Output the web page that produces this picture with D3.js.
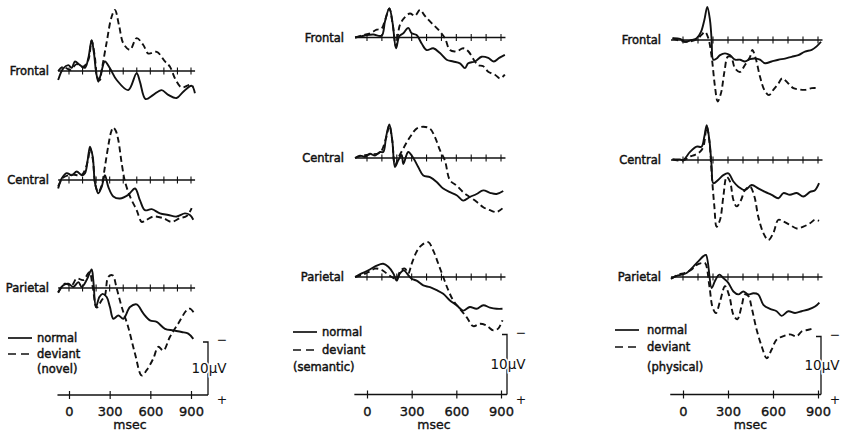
<!DOCTYPE html>
<html>
<head>
<meta charset="utf-8">
<script src="https://cdn.jsdelivr.net/npm/d3@7"></script>
<style>
  body { margin: 0; background: #fff; }
  svg text { font-family: "DejaVu Sans", sans-serif; fill: #111; }
</style>
</head>
<body>
<script>
// ERP traces, [msec, µV]; positive values plotted downward (negative up)
const sites = ['Frontal', 'Central', 'Parietal'];
const conditions = ['novel', 'semantic', 'physical'];
const timeTickLabels = [0, 300, 600, 900];
const baselineTicks = [0, 100, 200, 300, 400, 500, 600, 700, 800, 900];

const novelFrontalNormal = [[-80,1.7],[-42,-0.5],[-5,-1.1],[20,-0.6],[44,-1.8],[81,-1.1],[118,-0.6],[143,-2.5],[167,-5.8],[184,-3.4],[199,0],[216,2.0],[233,0.8],[265,-1.8],[302,-0.5],[352,1.7],[437,3.6],[499,0.4],[523,2.0],[565,5.3],[622,4.5],[683,3.6],[732,4.5],[794,5.1],[843,3.9],[905,2.8],[929,4.2]];
const novelFrontalDeviant = [[-80,0],[-42,-0.8],[7,-0.2],[56,-1.3],[105,-0.8],[143,-2.1],[167,-5.7],[191,-2.6],[208,1.1],[228,1.7],[240,0],[277,-5.3],[314,-10.2],[339,-11.5],[370,-8.5],[401,-5.2],[450,-4.0],[499,-6.2],[548,-4.9],[585,-3.3],[647,-3.6],[708,-1.8],[745,-0.8],[782,1.4],[831,3.1],[892,2.6],[917,3.0]];
const novelCentralNormal = [[-80,1.6],[-54,-0.3],[-17,-1.3],[20,-0.9],[57,-1.6],[94,-0.9],[118,-1.3],[138,-3.8],[155,-6.3],[175,-4.4],[192,0.6],[216,2.5],[241,1.3],[265,-0.9],[290,1.3],[327,3.1],[376,3.5],[437,2.8],[487,1.6],[523,3.8],[560,5.7],[610,5.5],[671,6.3],[732,6.6],[794,6.9],[855,6.3],[892,6.6],[917,7.5]];
const novelCentralDeviant = [[-80,1.2],[-40,-0.5],[20,-1.0],[94,-1.0],[138,-3.5],[155,-6.0],[175,-4.0],[195,1.0],[216,2.3],[241,1.0],[265,-2.5],[290,-6.5],[310,-9.0],[327,-9.9],[345,-9.3],[364,-7.5],[389,-3.1],[413,0.3],[450,3.1],[499,5.7],[536,7.9],[560,7.7],[622,6.9],[695,7.2],[757,7.9],[818,7.2],[868,6.8],[905,5.3]];
const novelParietalNormal = [[-80,0.9],[-42,-0.5],[-5,-0.8],[32,-0.2],[69,-1.1],[94,-0.2],[130,-1.5],[167,-3.5],[179,-1.5],[199,3.6],[224,1.7],[248,1.1],[278,1.7],[302,3.6],[327,5.8],[364,5.2],[401,5.8],[450,3.6],[499,3.1],[548,4.8],[597,6.1],[647,6.4],[708,7.7],[769,8.0],[831,8.3],[880,8.6],[917,9.6]];
const novelParietalDeviant = [[-80,0.8],[-30,-0.8],[20,-0.5],[57,-1.8],[106,-1.5],[150,-3.0],[175,-0.2],[204,3.7],[241,2.3],[265,1.4],[290,-2.1],[322,-2.4],[352,0.1],[389,3.6],[437,7.4],[487,12.4],[536,16.5],[573,15.5],[622,13.3],[659,11.1],[696,11.8],[745,9.2],[806,6.7],[868,4.2],[892,3.9],[922,4.7]];

const semanticFrontalNormal = [[-80,0],[-36,-0.2],[-2,-0.4],[43,-0.5],[98,-0.3],[121,-2.7],[150,-4.9],[172,-2.4],[195,1.8],[217,-0.2],[244,-0.7],[277,-1.6],[300,-0.7],[333,-0.4],[367,1.0],[401,2.1],[445,1.8],[490,2.6],[535,3.7],[579,4.0],[624,4.3],[658,5.1],[680,4.3],[725,4.0],[770,3.2],[814,3.4],[852,4.0],[888,3.4],[926,2.9]];
const semanticFrontalDeviant = [[-80,0],[-25,-0.4],[20,-0.7],[65,-1.3],[98,-1.5],[121,-2.9],[150,-4.8],[172,-2.3],[195,1.5],[221,-2.1],[255,-3.4],[289,-4.0],[322,-3.6],[356,-4.6],[389,-3.6],[434,-2.4],[479,-1.3],[523,0.1],[557,2.1],[602,2.3],[646,1.8],[680,2.3],[725,4.0],[747,4.6],[781,4.8],[814,5.7],[859,6.2],[893,6.8],[926,6.2]];
const semanticCentralNormal = [[-80,0],[-47,-0.4],[-13,-0.2],[20,-0.7],[54,-0.4],[87,-1.0],[109,-1.0],[128,-3.5],[150,-5.6],[170,-2.9],[188,1.5],[210,0.4],[233,-0.5],[244,1.0],[277,-1.0],[311,0],[344,1.5],[378,2.9],[423,3.2],[468,4.0],[512,5.1],[557,5.7],[602,6.2],[646,7.1],[691,6.5],[736,6.0],[781,5.4],[826,5.8],[870,6.0],[915,5.5]];
const semanticCentralDeviant = [[-80,0],[-47,-0.3],[20,-0.6],[87,-0.9],[128,-3.3],[150,-5.4],[170,-2.8],[188,1.2],[210,0],[244,-1.6],[289,-3.5],[333,-4.9],[378,-5.2],[423,-4.9],[456,-3.5],[490,-1.3],[523,0.4],[557,3.7],[602,4.6],[646,5.7],[691,6.5],[736,7.3],[781,8.2],[826,8.7],[870,9.0],[910,8.4]];
const semanticParietalNormal = [[-80,0],[-36,-0.6],[9,-1.1],[65,-1.9],[109,-2.2],[143,-1.7],[177,-0.6],[199,0.6],[221,-0.6],[248,-1.1],[277,-0.3],[300,0.3],[333,0.6],[378,1.4],[423,1.7],[468,2.2],[512,2.8],[557,3.9],[602,4.7],[646,5.6],[691,5.0],[736,5.3],[781,4.7],[826,5.1],[870,5.3],[910,5.3]];
const semanticParietalDeviant = [[-80,0],[-36,-0.3],[9,-0.8],[54,-1.4],[98,-1.2],[132,-0.6],[166,0],[199,0.3],[226,-1.1],[255,-1.4],[277,-0.6],[300,-2.2],[333,-4.2],[367,-5.3],[412,-5.8],[445,-4.4],[479,-2.2],[512,0],[546,2.2],[579,3.9],[624,5.3],[669,6.7],[714,8.2],[758,7.8],[803,8.1],[848,8.9],[881,8.6],[910,7.2]];

const physicalFrontalNormal = [[-70,-0.3],[-20,-0.2],[13,0.3],[58,0],[91,-0.3],[120,-1.4],[142,-3.4],[162,-5.7],[180,-3.4],[191,0],[202,3.4],[224,3.2],[247,2.6],[280,2.3],[313,2.6],[347,3.4],[380,3.4],[413,3.7],[447,3.3],[480,3.2],[513,3.4],[547,4.0],[591,3.7],[636,3.4],[680,3.2],[724,2.9],[769,2.6],[813,2.0],[858,1.7],[891,1.1],[920,0.3]];
const physicalFrontalDeviant = [[-70,-0.3],[13,0.3],[91,-0.1],[124,-0.9],[147,-1.4],[169,-0.3],[191,2.9],[213,8.0],[231,10.6],[253,9.2],[276,5.5],[298,2.9],[320,2.9],[347,4.9],[380,5.5],[413,4.3],[447,2.9],[462,1.7],[485,3.2],[513,6.3],[542,8.6],[573,9.5],[602,8.6],[636,7.5],[662,6.6],[702,7.5],[736,8.3],[769,8.5],[813,8.6],[858,8.3],[902,8.3]];
const physicalCentralNormal = [[-70,-0.1],[-20,-0.1],[2,0],[47,-1.4],[91,-2.3],[124,-2.3],[142,-4.0],[158,-6.0],[176,-3.4],[191,1.1],[202,4.0],[236,3.4],[269,2.6],[302,2.3],[336,3.7],[369,4.6],[413,5.2],[458,4.3],[502,4.9],[547,5.5],[591,6.0],[636,6.6],[669,5.7],[713,6.0],[758,5.7],[802,6.3],[847,5.5],[880,5.2],[907,4.0]];
const physicalCentralDeviant = [[-70,-0.1],[2,0.1],[47,-0.6],[80,-0.9],[113,-1.4],[136,-2.3],[158,-5.7],[176,-3.2],[191,2.3],[209,8.0],[224,11.5],[247,10.3],[269,6.3],[291,2.9],[313,3.7],[336,6.9],[358,8.0],[387,6.9],[413,5.2],[447,4.6],[476,6.3],[502,9.8],[536,12.6],[569,13.8],[602,12.6],[636,10.3],[669,10.6],[713,11.2],[758,11.8],[802,11.5],[847,10.9],[880,10.3],[907,10.5]];
const physicalParietalNormal = [[-80,0.3],[-42,-0.2],[-9,-0.4],[24,-0.7],[69,-1.8],[102,-2.7],[136,-3.6],[153,-3.8],[191,1.9],[213,0.7],[242,-0.4],[269,0.2],[302,1.0],[336,2.5],[369,3.0],[402,2.5],[436,3.0],[469,2.8],[502,3.0],[536,4.8],[580,5.5],[624,5.9],[658,6.7],[702,5.9],[747,6.2],[791,5.9],[836,5.6],[880,5.1],[909,4.4]];
const physicalParietalDeviant = [[-80,0.3],[-31,-0.4],[13,-0.7],[58,-1.3],[91,-2.1],[124,-2.4],[147,-2.4],[176,1.6],[198,5.3],[220,6.2],[247,4.2],[280,1.6],[309,3.3],[336,6.5],[362,7.3],[391,5.0],[413,3.0],[436,3.3],[458,5.3],[491,9.1],[524,11.9],[558,14.0],[591,12.5],[624,10.8],[669,10.2],[713,9.9],[758,10.2],[791,9.4],[836,9.1],[876,8.8]];

const traces = {
    novel: {
        Frontal: [novelFrontalNormal, novelFrontalDeviant],
        Central: [novelCentralNormal, novelCentralDeviant],
        Parietal: [novelParietalNormal, novelParietalDeviant]
    },
    semantic: {
        Frontal: [semanticFrontalNormal, semanticFrontalDeviant],
        Central: [semanticCentralNormal, semanticCentralDeviant],
        Parietal: [semanticParietalNormal, semanticParietalDeviant]
    },
    physical: {
        Frontal: [physicalFrontalNormal, physicalFrontalDeviant],
        Central: [physicalCentralNormal, physicalCentralDeviant],
        Parietal: [physicalParietalNormal, physicalParietalDeviant]
    }
};

// page layout of the three columns
const layout = [
    { x0: 69, x900: 191, k: 5.3, base: [71, 180, 288], axisY: 395, barX: 208,
      labelEnd: 49, legX: 8, textX: 37, parenX: 37, legY: [338, 354, 369] },
    { x0: 367, x900: 501, k: 6.0, base: [37.5, 158, 277], axisY: 394.5, barX: 507,
      labelEnd: 344, legX: 293, textX: 322, parenX: 293, legY: [332, 350, 367] },
    { x0: 683, x900: 818, k: 5.8, base: [40, 160, 277], axisY: 394.5, barX: 821,
      labelEnd: 661, legX: 615, textX: 647, parenX: 647, legY: [330, 347, 367] }
];

const ink = '#111';

const svg = d3.select('body')
      .append('svg')
      .attr('width', 842)
      .attr('height', 437);

layout.forEach((p, ci) => {
    const cond = conditions[ci];
    const g = svg.append('g').attr('class', 'column');

    const x = d3.scaleLinear()
          .domain([0, 900])
          .range([p.x0, p.x900]);

    sites.forEach((site, si) => {
        const y = d3.scaleLinear()
              .domain([0, 10])
              .range([p.base[si], p.base[si] + 10 * p.k]);

        // baseline with 100 ms ticks
        g.append('line')
            .attr('x1', x(-80)).attr('x2', x(930))
            .attr('y1', y(0)).attr('y2', y(0))
            .attr('stroke', ink).attr('stroke-width', 1.3);

        g.selectAll(null)
            .data(baselineTicks)
            .enter()
            .append('line')
            .attr('x1', d => x(d)).attr('x2', d => x(d))
            .attr('y1', y(0) - 3.5).attr('y2', y(0) + 3.5)
            .attr('stroke', ink).attr('stroke-width', 1.1);

        const line = d3.line()
              .x(d => x(d[0]))
              .y(d => y(d[1]))
              .curve(d3.curveCatmullRom.alpha(0.5));

        g.selectAll(null)
            .data(traces[cond][site])
            .enter()
            .append('path')
            .attr('d', d => line(d))
            .attr('fill', 'none')
            .attr('stroke', ink)
            .attr('stroke-width', 1.9)
            .attr('stroke-linejoin', 'round')
            .attr('stroke-dasharray', (d, i) => i === 1 ? '6,3.5' : null);

        g.append('text')
            .attr('x', p.labelEnd)
            .attr('y', y(0) + 4)
            .attr('text-anchor', 'end')
            .attr('font-size', 11.5)
            .attr('stroke', ink).attr('stroke-width', 0.45)
            .text(site);
    });

    // time axis
    const axisG = g.append('g')
          .attr('transform', `translate(0, ${p.axisY})`)
          .call(d3.axisBottom(x)
                .tickValues(timeTickLabels)
                .tickSizeInner(4)
                .tickSizeOuter(0)
                .tickPadding(8));
    axisG.select('.domain').remove();
    axisG.selectAll('.tick line')
        .attr('y1', -4).attr('y2', 4)
        .attr('stroke', ink).attr('stroke-width', 1.2);
    axisG.selectAll('.tick text')
        .attr('font-size', 13)
        .attr('font-family', '"DejaVu Sans", sans-serif')
        .attr('fill', ink)
        .attr('stroke', ink).attr('stroke-width', 0.35);
    axisG.append('line')
        .attr('x1', x(-85)).attr('x2', p.barX)
        .attr('stroke', ink).attr('stroke-width', 1.3);

    g.append('text')
        .attr('x', x(450))
        .attr('y', p.axisY + 34)
        .attr('text-anchor', 'middle')
        .attr('font-size', 12.5)
        .attr('stroke', ink).attr('stroke-width', 0.35)
        .text('msec');

    // 10 µV calibration bar
    const yBar = d3.scaleLinear()
          .domain([0, 10])
          .range([p.axisY, p.axisY - 10 * p.k]);

    g.append('path')
        .attr('d', `M${p.barX - 5},${yBar(10)}H${p.barX}V${yBar(0)}`)
        .attr('fill', 'none')
        .attr('stroke', ink).attr('stroke-width', 1.3);

    g.append('text')
        .attr('x', p.barX + 1)
        .attr('y', yBar(4.2))
        .attr('text-anchor', 'middle')
        .attr('font-size', 13.5)
        .attr('stroke', '#fff').attr('stroke-width', 3)
        .attr('paint-order', 'stroke')
        .text('10µV');

    g.append('text')
        .attr('x', p.barX + 14)
        .attr('y', yBar(10) + 2)
        .attr('text-anchor', 'middle')
        .attr('font-size', 12.5)
        .text('\u2212');

    g.append('text')
        .attr('x', p.barX + 14)
        .attr('y', yBar(0) + 9)
        .attr('text-anchor', 'middle')
        .attr('font-size', 12.5)
        .text('+');

    // legend
    g.selectAll(null)
        .data(['normal', 'deviant'])
        .enter()
        .append('line')
        .attr('x1', p.legX).attr('x2', p.legX + 24)
        .attr('y1', (d, i) => p.legY[i]).attr('y2', (d, i) => p.legY[i])
        .attr('stroke', ink).attr('stroke-width', 1.7)
        .attr('stroke-dasharray', (d, i) => i === 1 ? '8,5' : null);

    g.selectAll(null)
        .data(['normal', 'deviant'])
        .enter()
        .append('text')
        .attr('x', p.textX)
        .attr('y', (d, i) => p.legY[i] + 4)
        .attr('font-size', 11.5)
        .attr('stroke', ink).attr('stroke-width', 0.45)
        .text(d => d);

    g.append('text')
        .attr('x', p.parenX)
        .attr('y', p.legY[2] + 4)
        .attr('font-size', 11.5)
        .attr('stroke', ink).attr('stroke-width', 0.45)
        .text(`(${cond})`);
});
</script>
</body>
</html>
